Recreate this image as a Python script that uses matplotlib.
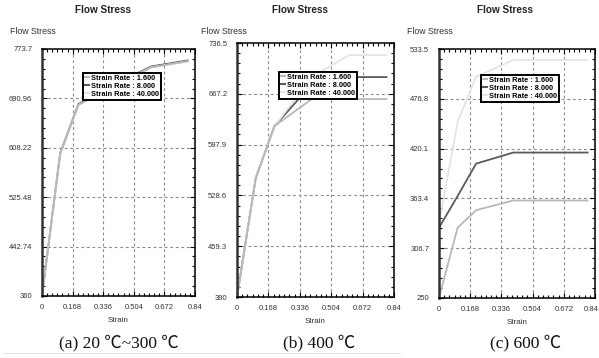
import matplotlib
matplotlib.use("Agg")
import matplotlib.pyplot as plt
import matplotlib.transforms as mtrans
from matplotlib.ticker import AutoMinorLocator

# ---------------- data ----------------
strain = [0, 0.1, 0.2, 0.4, 0.6, 0.8]

a_16 = [360, 598, 680, 713, 743, 753]
a_8 = [361, 599.5, 681.5, 714.5, 744.5, 754.5]
a_40 = [360, 598, 680, 713, 743, 753]

b_16 = [390, 552, 623, 660, 660, 660]
b_8 = [390, 552, 623, 680, 690, 690]
b_40 = [390, 552, 623, 690, 720, 720]

c_16 = [250, 330, 350, 361, 361, 361]
c_8 = [330, 366, 403, 415.6, 415.6, 415.6]
c_40 = [335, 450, 502, 521, 521, 521]

rate_labels = ["Strain Rate : 1.600", "Strain Rate : 8.000", "Strain Rate : 40.000"]
x_ticks = [0, 0.168, 0.336, 0.504, 0.672, 0.84]
x_tick_labels = ["0", "0.168", "0.336", "0.504", "0.672", "0.84"]

a_yticks = [360, 442.74, 525.48, 608.22, 690.96, 773.7]
b_yticks = [390, 459.3, 528.6, 597.9, 667.2, 736.5]
c_yticks = [250, 306.7, 363.4, 420.1, 476.8, 533.5]
a_yticklabels = ["360", "442.74", "525.48", "608.22", "690.96", "773.7"]
b_yticklabels = ["390", "459.3", "528.6", "597.9", "667.2", "736.5"]
c_yticklabels = ["250", "306.7", "363.4", "420.1", "476.8", "533.5"]

captions = ["(a) 20 ℃~300 ℃", "(b) 400 ℃", "(c) 600 ℃"]

# ---------------- layout ----------------
W, H = 599, 358
fig = plt.figure(figsize=(W / 100, H / 100), dpi=100)
fig.patch.set_facecolor("white")

def px_axes(l, t, r, b):
    return fig.add_axes([l / W, 1 - b / H, (r - l) / W, (b - t) / H])

colors = ["#b8b8b8", "#5a5a5a", "#e4e4e4"]

panels = [
    dict(box=(42, 49, 195, 296), data=[a_16, a_8, a_40], yt=a_yticks, ytl=a_yticklabels,
         title_x=103, ylab_x=10, leg=(83, 73), cap_x=119, order=[1, 2, 0]),
    dict(box=(237, 43, 394, 297), data=[b_16, b_8, b_40], yt=b_yticks, ytl=b_yticklabels,
         title_x=300, ylab_x=201, leg=(279, 72), cap_x=319, order=[1, 2, 0]),
    dict(box=(439, 49, 595, 298), data=[c_16, c_8, c_40], yt=c_yticks, ytl=c_yticklabels,
         title_x=505, ylab_x=407, leg=(481, 75), cap_x=526, order=[2, 0, 1]),
]

sans = ["Liberation Sans", "DejaVu Sans"]

for i, p in enumerate(panels):
    l, t, r, b = p["box"]
    ax = px_axes(l, t, r, b)
    handles = [None, None, None]
    for k in p["order"]:
        ln, = ax.plot(strain, p["data"][k], color=colors[k], lw=1.3, solid_joinstyle="miter")
        handles[k] = ln
    ax.set_xlim(0, 0.84)
    ax.set_ylim(p["yt"][0], p["yt"][-1])
    ax.set_xticks(x_ticks)
    ax.set_xticklabels(x_tick_labels, fontsize=5.5, color="#333333", family=sans)
    ax.set_yticks(p["yt"])
    ax.set_yticklabels(p["ytl"], fontsize=5.5, color="#333333", family=sans)
    ax.xaxis.set_minor_locator(AutoMinorLocator(6))
    ax.yaxis.set_minor_locator(AutoMinorLocator(5))
    ax.tick_params(which="both", direction="in", top=True, right=True, color="black", width=0.8)
    ax.tick_params(which="major", length=3.5, pad=6)
    ax.tick_params(axis="y", which="major", pad=7)
    ax.tick_params(which="minor", length=2.2)
    if i == 2:
        lab = ax.get_xticklabels()[-1]
        lab.set_transform(lab.get_transform() + mtrans.ScaledTranslation(-4 / 100, 0, fig.dpi_scale_trans))
    # grid (inner major ticks only)
    for xv in x_ticks[1:-1]:
        ax.axvline(xv, color="#8a8a8a", lw=0.8, ls=(0, (2.5, 2.5)), zorder=0)
    for yv in p["yt"][1:-1]:
        ax.axhline(yv, color="#8a8a8a", lw=0.8, ls=(0, (2.5, 2.5)), zorder=0)
    for s in ax.spines.values():
        s.set_linewidth(1.1)
        s.set_color("black")
    ax.spines["left"].set_linewidth(1.8)
    ax.spines["left"].set_color("#333333")
    ax.set_xlabel("Strain", fontsize=5.8, color="#333333", family=sans, labelpad=4)

    leg = ax.legend(handles, rate_labels, loc="upper left",
                    bbox_to_anchor=(p["leg"][0] / W, 1 - p["leg"][1] / H),
                    bbox_transform=fig.transFigure,
                    prop=dict(family=sans, weight="bold", size=5.3),
                    handlelength=0.5, handletextpad=0.3, borderpad=0.25,
                    labelspacing=0.12, borderaxespad=0, fancybox=False,
                    framealpha=1, edgecolor="black")
    leg.get_frame().set_linewidth(1.4)
    for lh in leg.get_lines():
        lh.set_linewidth(1.5)

    fig.text(p["title_x"] / W, 1 - 10 / H, "Flow Stress", ha="center", va="center",
             fontsize=7.2, weight="bold", family=sans, color="#222222")
    fig.text(p["ylab_x"] / W, 1 - 31 / H, "Flow Stress", ha="left", va="center",
             fontsize=6.3, family=sans, color="#333333")
    fig.text(p["cap_x"] / W, 1 - 343 / H, captions[i], ha="center", va="center",
             fontsize=12.5, family=["Liberation Serif", "Noto Sans CJK SC", "DejaVu Serif"],
             color="#111111")

fig.add_artist(plt.Line2D([3 / W, 400 / W], [1 - 353 / H, 1 - 353 / H], color="#dddddd", lw=0.6))

fig.savefig("out.png", dpi=100, facecolor="white")
